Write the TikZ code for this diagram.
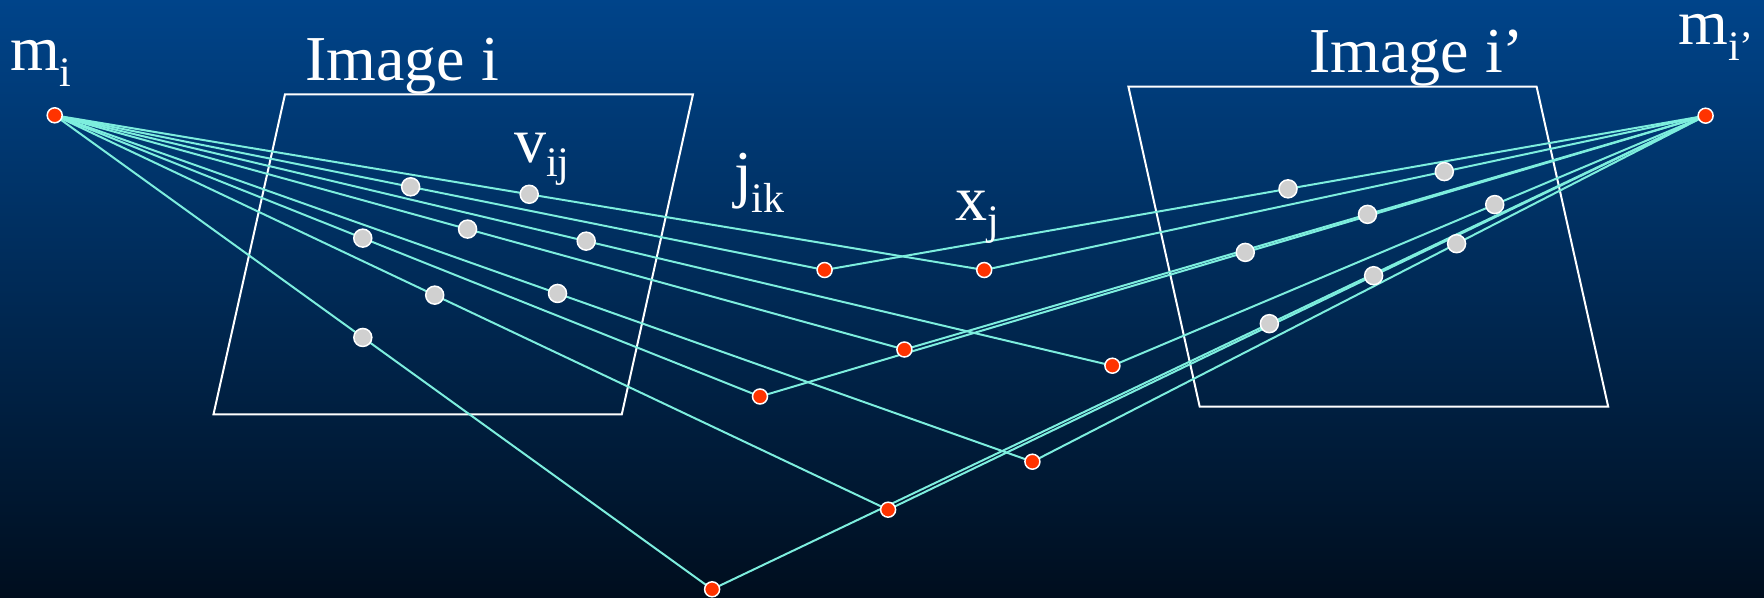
\documentclass[tikz,border=0pt]{standalone}
\usepackage{fontspec}
\setmainfont{Liberation Serif}
\usetikzlibrary{calc}
\definecolor{bgtop}{RGB}{0,68,138}
\definecolor{bgbot}{RGB}{0,14,30}
\definecolor{raycol}{RGB}{125,238,222}
\definecolor{ptred}{RGB}{255,51,0}
\definecolor{ptgray}{RGB}{208,208,208}
\newcommand\lsub[2][15]{\raisebox{-#1pt}{\fontsize{42}{42}\selectfont #2}}
\tikzset{
  reddot/.style={circle, fill=ptred, draw=white, line width=1.5pt, minimum size=15pt, inner sep=0pt},
  graydot/.style={circle, fill=ptgray, draw=white, line width=1.5pt, minimum size=18pt, inner sep=0pt},
  rayline/.style={draw=raycol, line width=2pt},
  plane/.style={draw=white, line width=2pt, line join=miter},
  lbl/.style={text=white, anchor=base west, inner sep=0pt, font=\fontsize{64}{70}\selectfont},
}
\begin{document}
\begin{tikzpicture}[x=1pt,y=-1pt]
\useasboundingbox (0,0) rectangle (1764,597);
\shade[top color=bgtop, bottom color=bgbot] (0,0) rectangle (1764,597);

% image planes
\draw[plane] (285,94.3) -- (693,94.3) -- (621.8,414.3) -- (213.5,414.3) -- cycle;
\draw[plane] (1128.4,86.7) -- (1536.6,86.7) -- (1608.2,406.7) -- (1199.7,406.7) -- cycle;

% camera centres and 3D points (positions)
\coordinate (mi) at (54.7,115.3);
\coordinate (mj) at (1705.6,115.7);
\coordinate (pA) at (824.6,270);
\coordinate (pB) at (984.2,270);
\coordinate (pC) at (904.4,349.5);
\coordinate (pD) at (1112.4,365.7);
\coordinate (pE) at (760,396.5);
\coordinate (pF) at (1032.4,461.7);
\coordinate (pG) at (888.1,509.7);
\coordinate (pH) at (712.1,589.3);

% rays
\foreach \p in {A,B,C,D,E,F,G,H}{
  \draw[rayline] (mi) -- (p\p);
  \draw[rayline] (p\p) -- (mj);
}

% projections in image i
\node[graydot] (gA) at ($(mi)!0.4623!(pA)$) {};
\node[graydot] (gB) at ($(mi)!0.5105!(pB)$) {};
\node[graydot] (gC) at ($(mi)!0.4859!(pC)$) {};
\node[graydot] (gD) at ($(mi)!0.5025!(pD)$) {};
\node[graydot] (gE) at ($(mi)!0.4368!(pE)$) {};
\node[graydot] (gF) at ($(mi)!0.5143!(pF)$) {};
\node[graydot] (gG) at ($(mi)!0.4560!(pG)$) {};
\node[graydot] (gH) at ($(mi)!0.4687!(pH)$) {};

% projections in image i'
\node[graydot] (hA) at ($(pA)!0.526!(mj)$) {};
\node[graydot] (hB) at ($(pB)!0.6378!(mj)$) {};
\node[graydot] (hC) at ($(pC)!0.578!(mj)$) {};
\node[graydot] (hD) at ($(pD)!0.6445!(mj)$) {};
\node[graydot] (hE) at ($(pE)!0.5132!(mj)$) {};
\node[graydot] (hF) at ($(pF)!0.6301!(mj)$) {};
\node[graydot] (hG) at ($(pG)!0.5939!(mj)$) {};
\node[graydot] (hH) at ($(pH)!0.5609!(mj)$) {};

% red points
\node[reddot] (Mi) at (mi) {};
\node[reddot] (Mj) at (mj) {};
\foreach \p in {A,B,C,D,E,F,G,H}{
  \node[reddot] (X\p) at (p\p) {};
}

% labels
\node[lbl] (lmi) at (10,70) {m\lsub[16]{i}};
\node[lbl] (limg) at (305,80) {Image i};
\node[lbl] (limgb) at (1309,72.7) {Image i’};
\node[lbl, text height=32pt] (lmj) at (1678,44.3) {m\lsub[16.5]{i’}};
\node[lbl] (lv) at (514,162) {v\lsub[14]{ij}};
\node[lbl] (lj) at (734,195) {j\lsub[17]{ik}};
\node[lbl] (lx) at (955,220) {x\lsub[14]{j}};
\end{tikzpicture}
\end{document}
